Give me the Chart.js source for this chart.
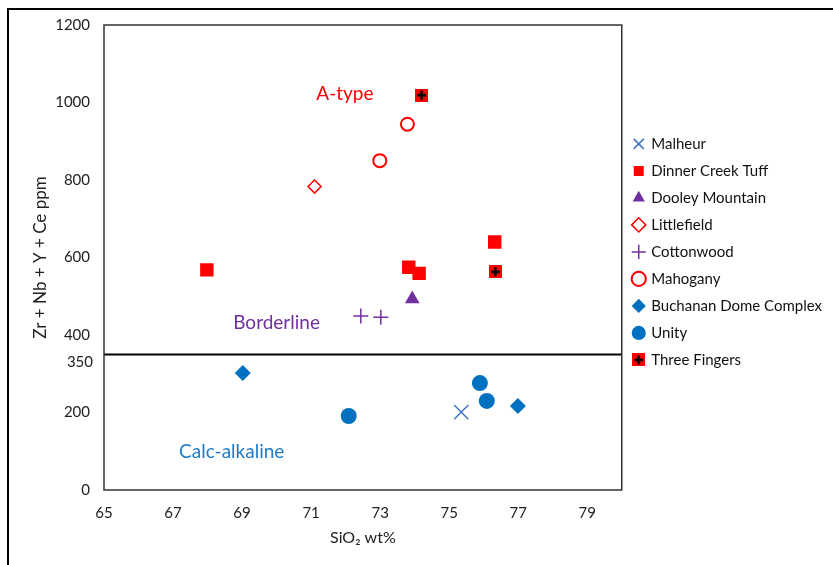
<!DOCTYPE html>
<html>
<head>
<meta charset="utf-8">
<script src="https://cdn.jsdelivr.net/npm/chart.js"></script>
<style>
  html, body { margin: 0; padding: 0; background: #fff; overflow: hidden; }
  #frame { position: absolute; left: 7px; top: 8px; width: 900px; height: 700px; border: 2px solid #000; }
  #wrap { position: absolute; left: 0; top: 0; width: 833px; height: 565px; }
</style>
</head>
<body>
<div id="frame"></div>
<div id="wrap"><canvas id="geoChart"></canvas></div>
<script>
// SiO2 (wt%) and Zr + Nb + Y + Ce (ppm) per locality
const malheurX = [75.35];
const malheurY = [201];
const dinnerCreekX = [67.98, 73.83, 74.13, 76.32];
const dinnerCreekY = [568, 575, 559, 640];
const dooleyX = [73.93];
const dooleyY = [493];
const littlefieldX = [71.1];
const littlefieldY = [783];
const cottonwoodX = [72.44, 73.02];
const cottonwoodY = [449, 446];
const mahoganyX = [73.79, 72.99];
const mahoganyY = [944, 850];
const buchananX = [69.02, 76.99];
const buchananY = [302, 217];
const unityX = [72.09, 75.89, 76.09];
const unityY = [191, 276, 230];
const threeFingersX = [74.2, 76.34];
const threeFingersY = [1019, 563];

const xTicks = [65, 67, 69, 71, 73, 75, 77, 79];
const yTicks = [0, 200, 400, 600, 800, 1000, 1200];
const thresholdY = 350;

const zoneNames = ['A-type', 'Borderline', 'Calc-alkaline'];
const zoneX = [71.98, 70.0, 68.7];
const zoneY = [1022, 431, 98];

const pts = (xs, ys) => xs.map((x, i) => ({ x: x, y: ys[i] }));

function threeFingersMark(size) {
  const c = document.createElement('canvas');
  c.width = c.height = size;
  const g = c.getContext('2d');
  g.fillStyle = '#FF0000';
  g.fillRect(0, 0, size, size);
  g.strokeStyle = '#000';
  g.lineWidth = 2.5;
  g.beginPath();
  g.moveTo(size / 2, 2); g.lineTo(size / 2, size - 2);
  g.moveTo(2, size / 2); g.lineTo(size - 2, size / 2);
  g.stroke();
  return c;
}

const zoneColors = ['#FF0000', '#7030A0', '#1F7BC8'];

const extras = {
  id: 'extras',
  afterDatasetsDraw(chart) {
    const { ctx, chartArea: a, scales: { x, y } } = chart;
    ctx.save();
    ctx.strokeStyle = '#333';
    ctx.lineWidth = 1.5;
    ctx.strokeRect(a.left, a.top, a.width, a.height);
    ctx.font = '19px Lato';
    ctx.textAlign = 'center';
    ctx.textBaseline = 'middle';
    zoneNames.forEach((t, i) => {
      ctx.fillStyle = zoneColors[i];
      ctx.fillText(t, x.getPixelForValue(zoneX[i]), y.getPixelForValue(zoneY[i]));
    });
    ctx.font = '15px Lato';
    ctx.fillStyle = '#222';
    ctx.textAlign = 'right';
    ctx.fillText(String(thresholdY), a.left - 11, y.getPixelForValue(thresholdY) + 8);
    ctx.restore();
  }
};

Chart.defaults.font.family = 'Lato, "Open Sans", sans-serif';
Chart.defaults.color = '#222';

const ctx = document.getElementById('geoChart').getContext('2d');
new Chart(ctx, {
  type: 'scatter',
  data: {
    datasets: [
      { label: 'Malheur', data: pts(malheurX, malheurY), pointStyle: 'crossRot', radius: 10,
        borderColor: '#4472C4', backgroundColor: '#4472C4', borderWidth: 1.5 },
      { label: 'Dinner Creek Tuff', data: pts(dinnerCreekX, dinnerCreekY), pointStyle: 'rect', radius: 9.5,
        borderColor: '#FF0000', backgroundColor: '#FF0000', borderWidth: 0 },
      { label: 'Dooley Mountain', data: pts(dooleyX, dooleyY), pointStyle: 'triangle', radius: 8.5,
        borderColor: '#7030A0', backgroundColor: '#7030A0', borderWidth: 0 },
      { label: 'Littlefield', data: pts(littlefieldX, littlefieldY), pointStyle: 'rectRot', radius: 6.5,
        borderColor: '#FF0000', backgroundColor: '#fff', borderWidth: 1.5 },
      { label: 'Cottonwood', data: pts(cottonwoodX, cottonwoodY), pointStyle: 'cross', radius: 7.5,
        borderColor: '#7030A0', backgroundColor: '#7030A0', borderWidth: 1.5 },
      { label: 'Mahogany', data: pts(mahoganyX, mahoganyY), pointStyle: 'circle', radius: 6.5,
        borderColor: '#FF0000', backgroundColor: '#fff', borderWidth: 2 },
      { label: 'Buchanan Dome Complex', data: pts(buchananX, buchananY), pointStyle: 'rectRot', radius: 8,
        borderColor: '#0070C0', backgroundColor: '#0070C0', borderWidth: 0 },
      { label: 'Unity', data: pts(unityX, unityY), pointStyle: 'circle', radius: 8,
        borderColor: '#0070C0', backgroundColor: '#0070C0', borderWidth: 0 },
      { label: 'Three Fingers', data: pts(threeFingersX, threeFingersY), pointStyle: threeFingersMark(13), radius: 7,
        borderColor: '#FF0000', backgroundColor: '#FF0000', borderWidth: 0 },
      { label: 'threshold', type: 'line', data: [{ x: 65, y: thresholdY }, { x: 80, y: thresholdY }],
        borderColor: '#000', borderWidth: 2, pointRadius: 0, fill: false }
    ]
  },
  options: {
    responsive: true,
    maintainAspectRatio: false,
    animation: false,
    layout: { padding: { left: 0, top: 25, right: 4, bottom: 14 } },
    plugins: {
      legend: {
        position: 'right',
        align: 'start',
        title: { display: true, text: ' ', padding: { top: 85, bottom: 0 } },
        labels: {
          usePointStyle: true,
          boxWidth: 10,
          boxHeight: 10,
          padding: 12,
          color: '#111',
          font: { size: 15 },
          filter: item => item.text !== 'threshold'
        }
      },
      tooltip: { enabled: false }
    },
    scales: {
      x: {
        type: 'linear',
        min: 65,
        max: 80,
        afterBuildTicks: s => { s.ticks = xTicks.map(v => ({ value: v })); },
        afterFit: s => { s.height = 61; },
        grid: { display: false, drawTicks: false },
        border: { display: false },
        ticks: { autoSkip: false, padding: 14, font: { size: 15 }, callback: v => String(v) },
        title: { display: true, text: 'SiO₂ wt%', font: { size: 16 }, padding: { top: 6, bottom: 4 } }
      },
      y: {
        min: 0,
        max: 1200,
        afterBuildTicks: s => { s.ticks = yTicks.map(v => ({ value: v })); },
        afterFit: s => { s.width = 104; },
        grid: { display: false, drawTicks: false },
        border: { display: false },
        ticks: { autoSkip: false, padding: 14, font: { size: 15 }, callback: v => String(v) },
        title: { display: true, text: 'Zr + Nb + Y + Ce ppm', font: { size: 17 }, padding: { top: 30, bottom: 0 } }
      }
    }
  },
  plugins: [extras]
});
</script>
</body>
</html>
